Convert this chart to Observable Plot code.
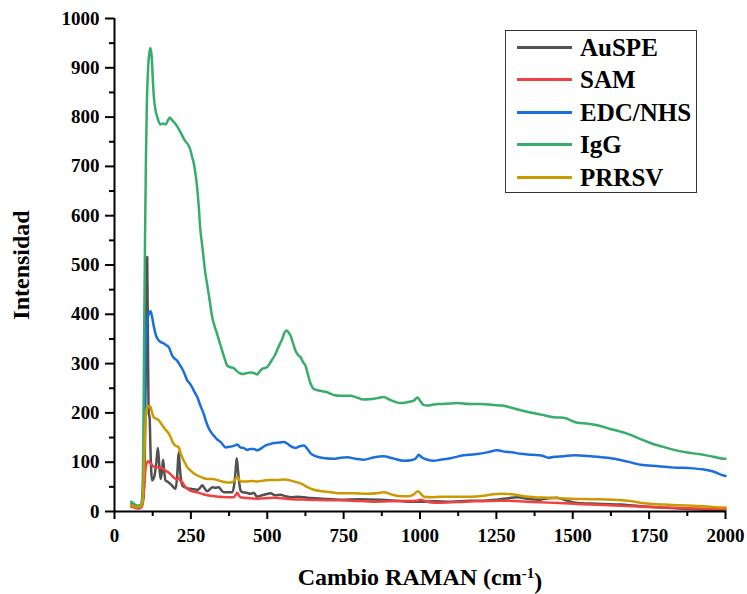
<!DOCTYPE html>
<html>
<head>
<meta charset="utf-8">
<script src="https://cdn.jsdelivr.net/npm/d3@7"></script>
<script src="https://cdn.jsdelivr.net/npm/@observablehq/plot@0.6"></script>
<style>
  html, body { margin: 0; padding: 0; background: #fff; }
  #wrap { position: relative; width: 747px; height: 594px; font-family: "Liberation Serif", "Times New Roman", serif; font-weight: bold; }
  #legend { position: absolute; left: 505px; top: 30px; width: 192px; height: 163px; border: 1px solid #333; background: #fff; box-sizing: border-box; }
  .row { position: absolute; left: 0; height: 32px; display: flex; align-items: center; }
  .sw { width: 55px; height: 3px; margin-left: 11px; margin-right: 8px; }
  .lab { font-size: 25px; line-height: 1; color: #000; }
</style>
</head>
<body>
<div id="wrap"><div id="chart"></div><div id="legend"></div></div>
<script>
const seriesNames = ["AuSPE", "SAM", "EDC/NHS", "IgG", "PRRSV"];
const seriesColors = ["#515151", "#F14040", "#1A6FDF", "#37AD6B", "#CC9900"];
const xTicks = [0, 250, 500, 750, 1000, 1250, 1500, 1750, 2000];
const xMinorTicks = [125, 375, 625, 875, 1125, 1375, 1625, 1875];
const yTicks = [0, 100, 200, 300, 400, 500, 600, 700, 800, 900, 1000];
const yMinorTicks = [50, 150, 250, 350, 450, 550, 650, 750, 850, 950];

const auspe = [[55,14],[70,10],[80,8],[88,10],[95,30],[100,150],[104,420],[107,516],[110,300],[112,200],[115,190],[118,120],[123,63],[130,70],[137,100],[142,129],[147,90],[151,66],[155,80],[159,105],[163,80],[167,63],[175,60],[183,56],[192,50],[200,46],[205,70],[210,120],[215,80],[222,53],[235,48],[249,46],[260,45],[271,44],[280,48],[287,53],[295,47],[303,41],[312,45],[320,49],[330,48],[341,49],[350,43],[358,39],[372,39],[385,39],[392,55],[396,80],[400,108],[404,85],[408,60],[413,42],[420,39],[432,38],[445,36],[455,38],[467,30],[478,32],[495,35],[511,37],[525,33],[543,34],[560,31],[576,29],[600,30],[631,28],[680,26],[740,24],[800,25],[871,24],[900,23],[958,20],[1002,20],[1050,21],[1100,20],[1165,22],[1210,22],[1253,24],[1290,27],[1318,29],[1350,26],[1394,24],[1420,27],[1449,28],[1480,22],[1515,17],[1560,16],[1600,15],[1656,14],[1700,12],[1765,9],[1820,7],[1875,5],[1940,3],[1994,2],[2000,2]];
const sam = [[55,10],[65,8],[75,6],[85,7],[92,15],[97,50],[102,90],[107,100],[112,102],[118,98],[126,92],[134,89],[142,90],[151,89],[160,86],[167,83],[175,80],[183,76],[192,70],[200,66],[205,65],[210,68],[216,62],[222,59],[230,51],[238,46],[250,42],[262,40],[271,39],[290,35],[314,32],[340,30],[369,29],[390,29],[397,34],[402,38],[407,33],[412,29],[440,27],[467,26],[521,28],[580,25],[631,24],[700,23],[780,22],[849,20],[920,21],[991,22],[1000,24],[1030,19],[1067,18],[1150,20],[1264,22],[1350,20],[1420,18],[1493,16],[1560,14],[1640,12],[1711,10],[1800,8],[1900,6],[1994,5],[2000,5]];
const edc = [[55,16],[70,10],[80,9],[88,12],[93,40],[97,150],[101,300],[106,380],[112,400],[118,406],[123,395],[129,374],[137,355],[145,347],[153,343],[161,341],[170,337],[178,333],[189,316],[197,310],[205,306],[213,298],[222,289],[230,278],[238,266],[246,260],[254,252],[262,242],[271,232],[281,215],[292,198],[300,182],[309,168],[317,160],[325,154],[335,147],[347,141],[355,135],[363,130],[375,131],[390,133],[402,136],[412,130],[422,129],[434,125],[445,127],[456,127],[467,124],[480,128],[495,134],[510,137],[521,139],[540,140],[554,141],[565,138],[578,132],[592,129],[605,132],[620,134],[630,128],[642,118],[652,114],[670,110],[690,108],[718,107],[740,109],[762,110],[790,107],[816,105],[850,110],[881,112],[910,108],[947,103],[970,104],[985,107],[996,115],[1005,110],[1024,105],[1045,103],[1067,105],[1100,108],[1143,114],[1180,116],[1220,120],[1253,124],[1280,121],[1300,120],[1329,117],[1370,115],[1400,113],[1420,109],[1440,111],[1470,112],[1504,114],[1560,112],[1613,109],[1660,104],[1700,98],[1722,95],[1780,92],[1831,89],[1880,88],[1929,85],[1960,81],[1994,73],[2000,72]];
const igg = [[55,20],[65,15],[75,12],[85,13],[90,25],[94,120],[97,350],[100,560],[103,720],[106,830],[110,900],[114,930],[118,940],[122,920],[126,870],[129,840],[134,815],[140,800],[150,785],[158,787],[167,785],[174,792],[181,799],[187,795],[194,790],[202,784],[210,776],[218,767],[227,756],[235,749],[243,742],[249,732],[254,719],[260,705],[265,685],[270,660],[276,617],[281,572],[286,545],[292,512],[297,485],[303,462],[311,430],[320,394],[328,375],[336,360],[344,343],[352,327],[360,311],[369,296],[378,293],[390,291],[400,285],[412,280],[422,279],[434,281],[445,282],[456,281],[467,278],[475,284],[483,289],[492,291],[500,293],[508,300],[516,308],[524,316],[532,327],[540,338],[549,350],[556,362],[563,367],[570,363],[576,357],[584,342],[592,327],[600,318],[609,313],[617,303],[625,296],[633,278],[642,259],[650,250],[658,247],[680,244],[696,242],[707,239],[720,236],[740,235],[762,235],[772,235],[790,232],[816,227],[840,228],[860,230],[881,232],[900,227],[920,222],[936,220],[960,222],[980,225],[991,231],[1000,225],[1010,217],[1024,215],[1045,217],[1067,218],[1100,219],[1122,220],[1160,218],[1200,218],[1240,216],[1269,215],[1290,212],[1320,207],[1362,201],[1400,196],[1438,191],[1470,190],[1515,180],[1550,178],[1580,175],[1620,168],[1650,163],[1678,158],[1710,150],[1754,139],[1790,132],[1831,125],[1870,120],[1918,116],[1960,111],[1994,107],[2000,107]];
const prrsv = [[55,14],[65,10],[75,9],[85,10],[92,20],[96,80],[100,160],[104,205],[109,212],[114,214],[118,212],[123,200],[129,191],[137,188],[145,185],[153,178],[161,171],[170,164],[178,158],[186,147],[194,137],[202,133],[210,130],[218,115],[227,103],[238,90],[249,83],[260,77],[271,73],[287,69],[303,66],[320,66],[336,64],[352,61],[369,59],[380,59],[390,61],[396,66],[402,70],[407,66],[412,61],[430,61],[450,62],[467,61],[490,63],[510,64],[530,64],[554,65],[575,63],[592,60],[609,57],[630,50],[652,44],[680,41],[710,39],[740,37],[780,37],[827,36],[860,37],[881,39],[910,34],[936,31],[965,31],[980,35],[993,41],[1003,36],[1013,30],[1040,29],[1067,30],[1120,30],[1165,30],[1210,32],[1240,35],[1264,36],[1300,35],[1340,31],[1373,29],[1420,28],[1460,27],[1493,26],[1560,25],[1634,24],[1680,22],[1710,19],[1744,16],[1800,14],[1875,12],[1940,10],[1994,8],[2000,8]];

const seriesData = [auspe, sam, edc, igg, prrsv];
const rows = seriesData.flatMap((arr, i) => arr.map(([x, y]) => ({x, y, s: seriesNames[i]})));

const fmt = d3.format("d");
const chart = Plot.plot({
  width: 747, height: 594,
  marginLeft: 114, marginRight: 22, marginTop: 18, marginBottom: 83,
  x: {domain: [0, 2000]},
  y: {domain: [0, 1000]},
  color: {domain: seriesNames, range: seriesColors},
  style: {fontFamily: "'Liberation Serif', 'Times New Roman', serif", fontWeight: "bold", fontSize: "19px", color: "#000", background: "#fff"},
  marks: [
    Plot.line(rows, {x: "x", y: "y", z: "s", stroke: "s", strokeWidth: 2.5, curve: "monotone-x"}),
    Plot.axisX({ticks: xMinorTicks, tickSize: 5, strokeWidth: 2, tickFormat: () => "", label: null}),
    Plot.axisY({ticks: yMinorTicks, tickSize: 5, strokeWidth: 2, tickFormat: () => "", label: null}),
    Plot.axisX({ticks: xTicks, tickSize: 8, tickPadding: 9, strokeWidth: 2, fontSize: 19, tickFormat: fmt,
      label: "Cambio RAMAN (cm-1)", labelAnchor: "center", labelOffset: 73}),
    Plot.axisY({ticks: yTicks, tickSize: 9, tickPadding: 6, strokeWidth: 2, fontSize: 19, tickFormat: fmt,
      label: "Intensidad", labelAnchor: "center", labelOffset: 103}),
    Plot.ruleX([0], {strokeWidth: 2}),
    Plot.ruleY([0], {strokeWidth: 2})
  ]
});
document.getElementById("chart").appendChild(chart);

// style axis titles
const svg = d3.select(chart);
svg.selectAll("g[aria-label='x-axis label'] text, g[aria-label='y-axis label'] text").style("font-size", "24px");
const xl = svg.select("g[aria-label='x-axis label'] text");
if (!xl.empty()) {
  xl.text(null);
  xl.append("tspan").text("Cambio RAMAN (cm");
  xl.append("tspan").attr("dy", "-0.45em").style("font-size", "15px").text("-1");
  xl.append("tspan").attr("dy", "0.45em").text(")");
}
const yl = svg.select("g[aria-label='y-axis label'] text");
if (!yl.empty()) yl.text("Intensidad");

// legend
const leg = d3.select("#legend");
seriesNames.forEach((n, i) => {
  const r = leg.append("div").attr("class", "row").style("top", (i * 32.5) + "px");
  r.append("div").attr("class", "sw").style("background", seriesColors[i]);
  r.append("div").attr("class", "lab").text(n);
});
</script>
</body>
</html>
